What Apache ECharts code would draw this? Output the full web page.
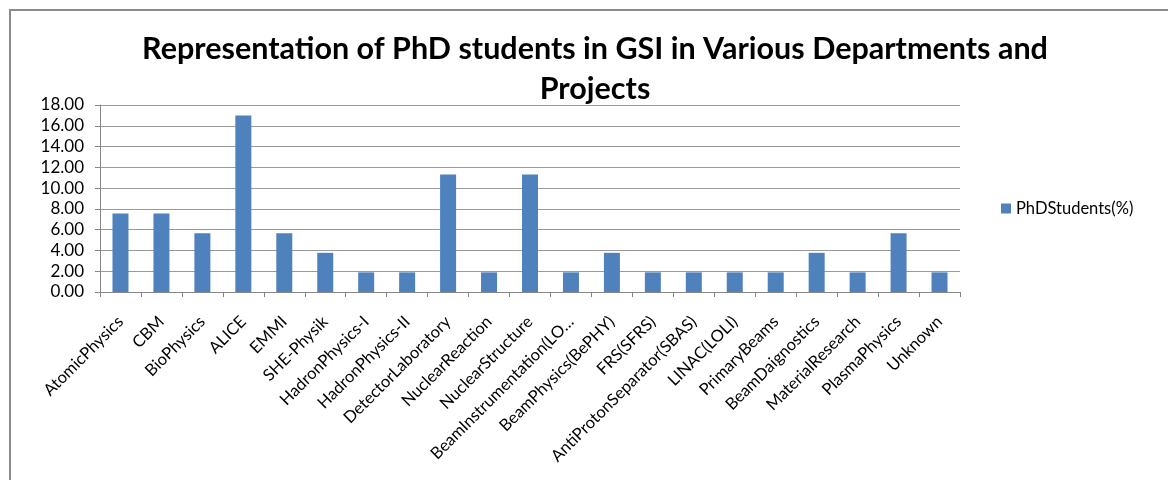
<!DOCTYPE html>
<html>
<head>
<meta charset="utf-8">
<script src="https://cdn.jsdelivr.net/npm/echarts@6/dist/echarts.min.js"></script>
<style>
  html, body { margin: 0; padding: 0; background: #fff; }
  #frame { position: absolute; left: 9px; top: 9px; width: 1200px; height: 520px; border: 2px solid #8a8a8a; box-sizing: border-box; }
  #main { position: absolute; left: 0; top: 0; width: 1168px; height: 480px; }
</style>
</head>
<body>
<div id="frame"></div>
<div id="main"></div>
<script>
// departments / projects
var departments = ['AtomicPhysics', 'CBM', 'BioPhysics', 'ALICE', 'EMMI', 'SHE-Physik',
  'HadronPhysics-I', 'HadronPhysics-II', 'DetectorLaboratory', 'NuclearReaction',
  'NuclearStructure', 'BeamInstrumentation(LO\u2026', 'BeamPhysics(BePHY)', 'FRS(SFRS)',
  'AntiProtonSeparator(SBAS)', 'LINAC(LOLI)', 'PrimaryBeams', 'BeamDaignostics',
  'MaterialResearch', 'PlasmaPhysics', 'Unknown'];
// PhD students share in %
var phdStudents = [7.55, 7.55, 5.66, 16.98, 5.66, 3.77, 1.89, 1.89, 11.32, 1.89,
  11.32, 1.89, 3.77, 1.89, 1.89, 1.89, 1.89, 3.77, 1.89, 5.66, 1.89];
var yTicks = { min: 0, max: 18, step: 2 };

var fontName = 'Lato';
var myChart = echarts.init(document.getElementById('main'));
var option = {
  backgroundColor: 'transparent',
  animation: false,
  title: {
    text: 'Representation of PhD students in GSI in Various Departments and\nProjects',
    left: 590,
    top: 24,
    textAlign: 'center',
    textStyle: {
      fontFamily: fontName,
      fontWeight: 'bold',
      fontSize: 30.5,
      lineHeight: 40,
      color: '#000'
    }
  },
  legend: {
    left: 996,
    top: 195,
    itemWidth: 10,
    itemHeight: 10,
    itemGap: 6,
    icon: 'rect',
    textStyle: { fontFamily: fontName, fontSize: 16.5, color: '#000' },
    data: ['PhDStudents(%)']
  },
  grid: {
    left: 100,
    right: 208,
    top: 105,
    bottom: 188,
    containLabel: false
  },
  xAxis: {
    type: 'category',
    data: departments,
    axisLine: { lineStyle: { color: '#868686', width: 1 } },
    axisTick: { show: true, length: 5, lineStyle: { color: '#868686' } },
    axisLabel: {
      interval: 0,
      rotate: 45,
      margin: 27,
      fontFamily: fontName,
      fontSize: 16.5,
      color: '#000'
    }
  },
  yAxis: {
    type: 'value',
    min: yTicks.min,
    max: yTicks.max,
    interval: yTicks.step,
    axisLine: { show: true, lineStyle: { color: '#868686', width: 1 } },
    axisTick: { show: true, length: 5, lineStyle: { color: '#868686' } },
    splitLine: { show: true, lineStyle: { color: '#9a9a9a', width: 1 } },
    axisLabel: {
      margin: 16,
      fontFamily: fontName,
      fontSize: 17,
      color: '#000',
      formatter: function (v) { return v.toFixed(2); }
    }
  },
  series: [{
    name: 'PhDStudents(%)',
    type: 'bar',
    data: phdStudents,
    barWidth: 16,
    itemStyle: { color: '#4f81bd' }
  }]
};
myChart.setOption(option);
</script>
</body>
</html>
